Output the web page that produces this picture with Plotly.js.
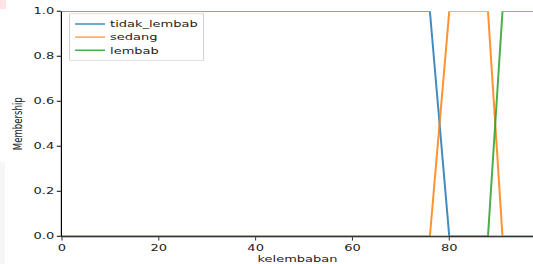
<!DOCTYPE html>
<html><head><meta charset="utf-8">
<script src="https://cdn.plot.ly/plotly-3.0.1.min.js"></script>
<style>
html,body{margin:0;padding:0;width:533px;height:264px;overflow:hidden;background:#fff;}
#wrap{position:absolute;left:0;top:0;width:533px;height:400px;transform:scale(1,0.66);transform-origin:0 0;}
#chart{width:533px;height:400px;}
.pink{position:absolute;left:0;top:0;width:6px;height:9px;background:#ffe3e8;}
.gray{position:absolute;left:0;top:162px;width:5px;height:102px;background:#f6f6f6;}
</style></head>
<body>
<div id="wrap"><div id="chart"></div></div>
<div class="pink"></div><div class="gray"></div>
<script>
const xVals = [0, 76, 80, 88, 91, 100];
const seriesNames = ["tidak_lembab", "sedang", "lembab"];
const tidakLembab = [1, 1, 0, 0, 0, 0];
const sedang = [0, 0, 1, 1, 0, 0];
const lembab = [0, 0, 0, 0, 1, 1];
const xTicks = [0, 20, 40, 60, 80];
const yTicks = [0, 0.2, 0.4, 0.6, 0.8, 1.0];
const colors = ["#1f77b4", "#ff7f0e", "#2ca02c"];

const ys = [tidakLembab, sedang, lembab];
const traces = ys.map((y, i) => ({
  x: xVals, y: y, type: "scatter", mode: "lines", name: seriesNames[i],
  line: {color: colors[i], width: 2}, opacity: 0.85, cliponaxis: false
}));

const font = {family: "DejaVu Sans, sans-serif", size: 13, color: "#222"};
const layout = {
  width: 533, height: 400,
  margin: {l: 62, r: 0, t: 17, b: 42, pad: 0},
  paper_bgcolor: "#fff", plot_bgcolor: "#fff",
  font: font,
  showlegend: true,
  legend: {x: 0.015, y: 0.99, xanchor: "left", yanchor: "top",
    bgcolor: "rgba(255,255,255,0.85)", bordercolor: "#d0d0d0", borderwidth: 1,
    font: {family: "DejaVu Sans, sans-serif", size: 13, color: "#222"}},
  xaxis: {range: [0, 97.3], tickvals: xTicks, ticktext: xTicks.map(String),
    showgrid: false, zeroline: false, showline: true, linecolor: "#000", linewidth: 1.5,
    ticks: "outside", ticklen: 5, tickwidth: 1, tickcolor: "#000",
    title: {text: "kelembaban", font: font, standoff: 6}},
  yaxis: {range: [0, 1], tickvals: yTicks, ticktext: yTicks.map(v => v.toFixed(1)),
    showgrid: false, zeroline: false, showline: true, linecolor: "#000", linewidth: 1.2,
    ticks: "outside", ticklen: 4, tickwidth: 1.5, tickcolor: "#000",
    title: {text: "Membership", font: font, standoff: 8}}
};
Plotly.newPlot("chart", traces, layout, {displayModeBar: false, staticPlot: true});
</script>
</body></html>
